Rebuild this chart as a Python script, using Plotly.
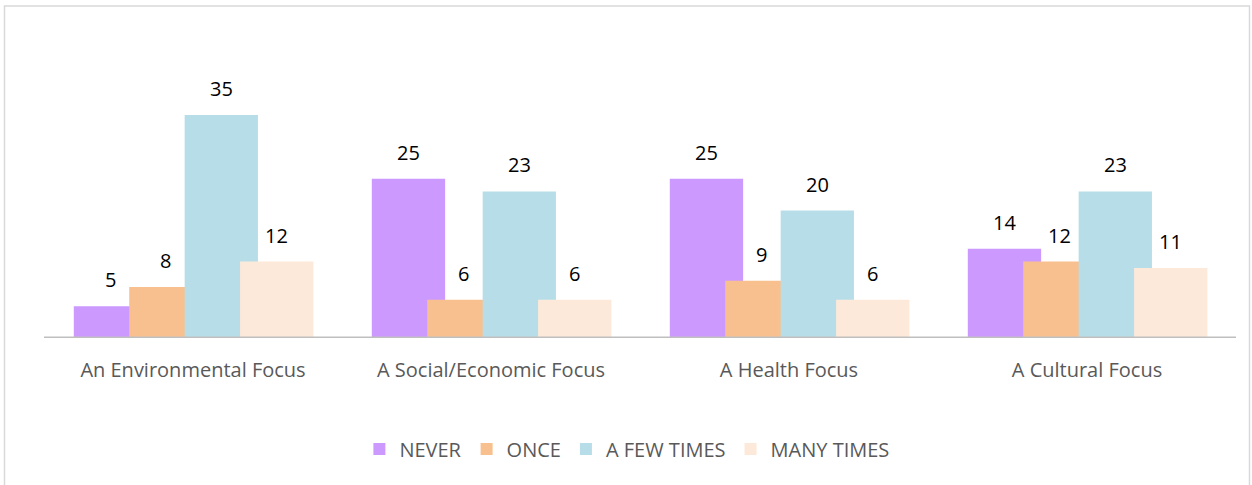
import plotly.graph_objects as go

categories = ["An Environmental Focus", "A Social/Economic Focus", "A Health Focus", "A Cultural Focus"]
series_names = ["NEVER", "ONCE", "A FEW TIMES", "MANY TIMES"]
never = [5, 25, 25, 14]
once = [8, 6, 9, 12]
few_times = [35, 23, 20, 23]
many_times = [12, 6, 6, 11]

colors = ["#CC99FF", "#F9C08F", "#B7DEE8", "#FDE9D9"]
series = [never, once, few_times, many_times]

W, H = 1252, 485
L, R, T, B = 44, 16, 83, 147
pw, ph = W - L - R, H - T - B

bar_w = 0.246
step = 0.186
start = -0.40

FONT = "Open Sans"

fig = go.Figure()
annotations = []
for k, (name, vals, col) in enumerate(zip(series_names, series, colors)):
    off = start + k * step
    fig.add_trace(go.Bar(
        x=list(range(len(categories))), y=vals, name=name,
        marker=dict(color=col, line=dict(width=0)),
        width=bar_w, offset=off, hoverinfo="y+name",
    ))
    for i, v in enumerate(vals):
        annotations.append(dict(
            x=i + off + bar_w / 2, y=v, xref="x", yref="y",
            text=str(v), showarrow=False, yanchor="bottom", yshift=11,
            font=dict(family=FONT, size=20, color="#000000"),
        ))

def px_x(p):
    return (p - L) / pw

def px_y(p):
    return (H - B - p) / ph

fig.update_layout(
    width=W, height=H,
    margin=dict(l=L, r=R, t=T, b=B),
    barmode="overlay",
    plot_bgcolor="white", paper_bgcolor="white",
    showlegend=True,
    legend=dict(orientation="h", x=0.489, xanchor="center", y=px_y(449), yanchor="middle",
                font=dict(family=FONT, size=20, color="#595959"),
                itemwidth=30, traceorder="normal"),
    xaxis=dict(
        tickmode="array", tickvals=list(range(len(categories))), ticktext=categories,
        range=[-0.5, len(categories) - 0.5],
        showgrid=False, zeroline=False, showline=False,
        ticks="outside", ticklen=14, tickcolor="rgba(0,0,0,0)",
        tickfont=dict(family=FONT, size=20, color="#595959"),
    ),
    yaxis=dict(range=[0, 40], visible=False, showgrid=False, zeroline=False),
    annotations=annotations,
    shapes=[
        dict(type="line", xref="paper", yref="y", x0=0, x1=1, y0=0, y1=0,
             line=dict(color="#BFBFBF", width=3), layer="above"),
        dict(type="rect", xref="paper", yref="paper",
             x0=px_x(4.5), x1=px_x(1249.5), y0=px_y(490), y1=px_y(6),
             line=dict(color="#D9D9D9", width=1.5), fillcolor="rgba(0,0,0,0)"),
    ],
)

fig.write_html("out.html", config={"displayModeBar": False},
               post_script="document.body.style.margin='0';document.body.style.padding='0';")
